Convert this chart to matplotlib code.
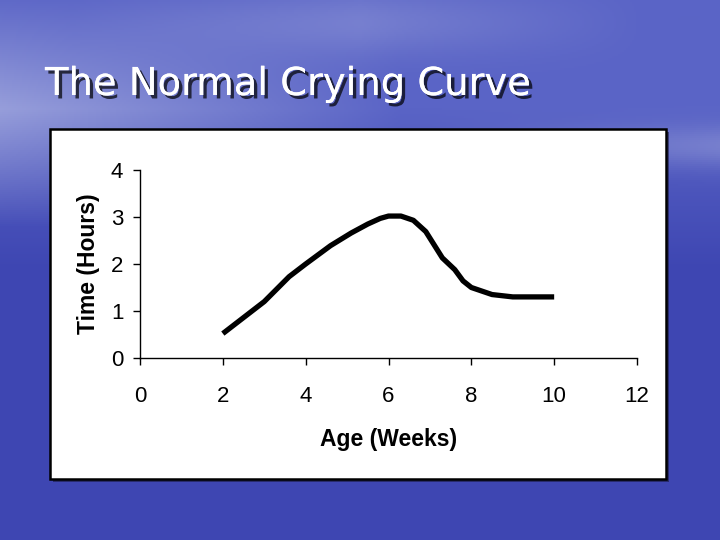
import numpy as np
import matplotlib
matplotlib.use('Agg')
import matplotlib.pyplot as plt
import matplotlib.patheffects as pe
from matplotlib.patches import Rectangle

# data
age_weeks = [2.0, 3.0, 3.6, 4.0, 4.6, 5.1, 5.5, 5.8, 6.0, 6.3, 6.6, 6.9, 7.1, 7.3, 7.6, 7.8, 8.0, 8.5, 9.0, 10.0]
time_hours = [0.52, 1.2, 1.73, 2.0, 2.39, 2.66, 2.85, 2.97, 3.02, 3.02, 2.93, 2.69, 2.41, 2.13, 1.88, 1.64, 1.5, 1.35, 1.3, 1.3]
x_ticks = [0, 2, 4, 6, 8, 10, 12]
y_ticks = [0, 1, 2, 3, 4]

W, H = 720, 540
fig = plt.figure(figsize=(7.2, 5.4), dpi=100)

# slide background: sky on top, water below
bg = fig.add_axes([0, 0, 1, 1], zorder=-5)
yy, xx = np.mgrid[0:1:270j, 0:1:360j]
sky = np.array([90, 100, 198]) / 255.0
sea = np.array([62, 70, 178]) / 255.0
cloud = np.array([200, 205, 235]) / 255.0
w_sea = np.clip((yy - 0.2) / 0.3, 0, 1)[..., None]
img = sky * (1 - w_sea) + sea * w_sea
# light clouds on the left of the sky, faint haze near the horizon on the right
w_cloud = (np.clip(1 - xx * 1.8, 0, 1) * np.clip(1 - np.abs(yy - 0.2) / 0.22, 0, 1))[..., None] * 0.55
w_haze = (np.clip((xx - 0.6) / 0.4, 0, 1) * np.exp(-((yy - 0.27) / 0.04) ** 2))[..., None] * 0.3
w_top = (np.exp(-((yy - 0.04) / 0.06) ** 2) * np.clip(1 - np.abs(xx - 0.5) / 0.4, 0, 1))[..., None] * 0.25
img = img * (1 - w_cloud) + cloud * w_cloud
img = img * (1 - w_haze) + cloud * w_haze
img = img * (1 - w_top) + cloud * w_top
bg.imshow(np.clip(img, 0, 1), extent=[0, 1, 0, 1], aspect='auto', origin='upper')
bg.set_axis_off()

# white chart panel with shadow
px, py, pw, ph = 50, 129, 616, 350
fig.patches.append(Rectangle(((px + 3) / W, 1 - (py + ph + 3) / H), pw / W, ph / H,
                             transform=fig.transFigure, facecolor='#1a1a40', alpha=0.6, zorder=1))
fig.patches.append(Rectangle((px / W, 1 - (py + ph) / H), pw / W, ph / H,
                             transform=fig.transFigure, facecolor='white', edgecolor='black',
                             linewidth=1.8, zorder=2))

fig.text(45 / W, 1 - 95 / H, 'The Normal Crying Curve', color='white', fontsize=27.7,
         family='DejaVu Sans', ha='left', va='baseline',
         path_effects=[pe.withSimplePatchShadow(offset=(2.5, -2.5), shadow_rgbFace='black', alpha=0.7),
                       pe.Normal()])

ax = fig.add_axes([140 / W, 1 - 358 / H, 497 / W, 188 / H], zorder=5)
ax.patch.set_alpha(0)
ax.plot(age_weeks, time_hours, color='black', linewidth=3.8, solid_capstyle='butt')
ax.set_xlim(0, 12)
ax.set_ylim(0, 4)
ax.set_xticks(x_ticks)
ax.set_yticks(y_ticks)
for s in ['top', 'right']:
    ax.spines[s].set_visible(False)
for s in ['left', 'bottom']:
    ax.spines[s].set_linewidth(1.0)
ax.tick_params(direction='out', length=5, width=1.0, labelsize=16)
ax.tick_params(axis='x', pad=15.5)
ax.tick_params(axis='y', pad=7)
for lab in ax.get_xticklabels() + ax.get_yticklabels():
    lab.set_family(['Liberation Sans', 'DejaVu Sans'])
ax.set_xlabel('Age (Weeks)', fontsize=16.5, fontweight='bold',
              family=['Liberation Sans', 'DejaVu Sans'], labelpad=14.5)
ax.set_ylabel('Time (Hours)', fontsize=16.5, fontweight='bold',
              family=['Liberation Sans', 'DejaVu Sans'], labelpad=7.5)

plt.savefig('out.png', dpi=100)
